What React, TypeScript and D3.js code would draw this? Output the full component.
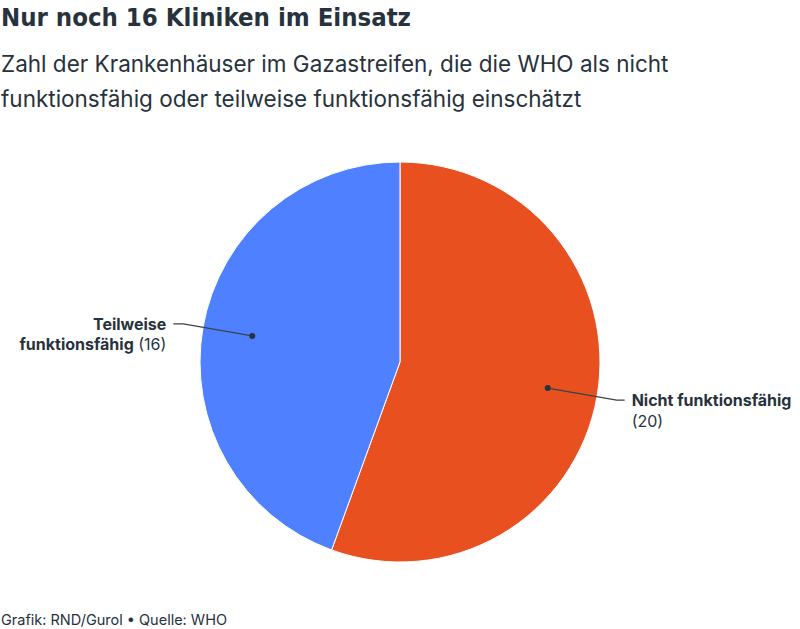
import React, { useEffect, useRef } from 'react';
import * as d3 from 'd3';

// data
const categories = ['Nicht funktionsfähig', 'Teilweise funktionsfähig'];
const labelLines = [['Nicht funktionsfähig'], ['Teilweise', 'funktionsfähig']];
const values = [20, 16];
const colors = ['#E8501F', '#4F80FF'];

const W = 800;
const H = 629;
const textColor = '#27323D';

const App = () => {
	const ref = useRef<SVGSVGElement>(null);

	useEffect(() => {
		const svg = d3.select(ref.current);
		svg.selectAll('*').remove();

		svg.append('text')
			.text('Nur noch 16 Kliniken im Einsatz')
			.attr('x', 1)
			.attr('y', 26)
			.style('font-family', '"DejaVu Sans Condensed", "DejaVu Sans"')
			.style('font-stretch', 'condensed')
			.style('font-weight', 'bold')
			.style('font-size', '25.5px')
			.style('fill', textColor);

		const sub = ['Zahl der Krankenhäuser im Gazastreifen, die die WHO als nicht',
			'funktionsfähig oder teilweise funktionsfähig einschätzt'];
		sub.forEach((s, i) => {
			svg.append('text')
				.text(s)
				.attr('x', 1)
				.attr('y', 72 + i * 35)
				.style('font-family', 'Inter')
				.style('font-size', '22.5px')
				.style('fill', textColor);
		});

		const cx = 400, cy = 362, R = 200;
		const g = svg.append('g').attr('transform', `translate(${cx},${cy})`);

		const pie = d3.pie<number>().sort(null).value(d => d);
		const arcs = pie(values);
		const arc = d3.arc<d3.PieArcDatum<number>>().innerRadius(0).outerRadius(R);
		const dotArc = d3.arc<d3.PieArcDatum<number>>().innerRadius(R * 0.75).outerRadius(R * 0.75);
		const elbowArc = d3.arc<d3.PieArcDatum<number>>().innerRadius(R * 1.1).outerRadius(R * 1.1);

		g.selectAll('.slice')
			.data(arcs)
			.enter()
			.append('path')
			.attr('d', arc)
			.style('fill', (d, i) => colors[i])
			.style('stroke', '#fff')
			.style('stroke-width', 1);

		arcs.forEach((d, i) => {
			const p0 = dotArc.centroid(d);
			const p1 = elbowArc.centroid(d);
			const right = p1[0] > 0;
			const p2 = [p1[0] + (right ? 8 : -10), p1[1]];

			g.append('polyline')
				.attr('points', [p0, p1, p2].map(p => p.join(',')).join(' '))
				.style('fill', 'none')
				.style('stroke', '#3a434c')
				.style('stroke-width', 1.2);

			g.append('circle')
				.attr('cx', p0[0])
				.attr('cy', p0[1])
				.attr('r', 3)
				.style('fill', '#27323D');

			const tx = p2[0] + (right ? 7 : -7);
			const lines = labelLines[i];
			const t = g.append('text')
				.attr('x', tx)
				.attr('y', p2[1] + 6)
				.attr('text-anchor', right ? 'start' : 'end')
				.style('font-family', 'Inter')
				.style('font-size', '16px')
				.style('fill', textColor);
			lines.forEach((l, j) => {
				const ts = t.append('tspan')
					.attr('x', tx)
					.attr('dy', j === 0 ? 0 : 20.5);
				ts.append('tspan').text(l).style('font-weight', 'bold');
				if (j === lines.length - 1 && !right) {
					ts.append('tspan').text(' (' + values[i] + ')');
				}
			});
			if (right) {
				t.append('tspan')
					.attr('x', tx)
					.attr('dy', 20.5)
					.text('(' + values[i] + ')');
			}
		});

		svg.append('text')
			.text('Grafik: RND/Gurol • Quelle: WHO')
			.attr('x', 1)
			.attr('y', 625)
			.style('font-family', 'Inter')
			.style('font-size', '14.5px')
			.style('fill', textColor);
	}, []);

	return (
		<svg ref={ref} width={W} height={H}
			style={{ position: 'absolute', left: 0, top: 0, background: '#fff' }} />
	);
};

export default App;
